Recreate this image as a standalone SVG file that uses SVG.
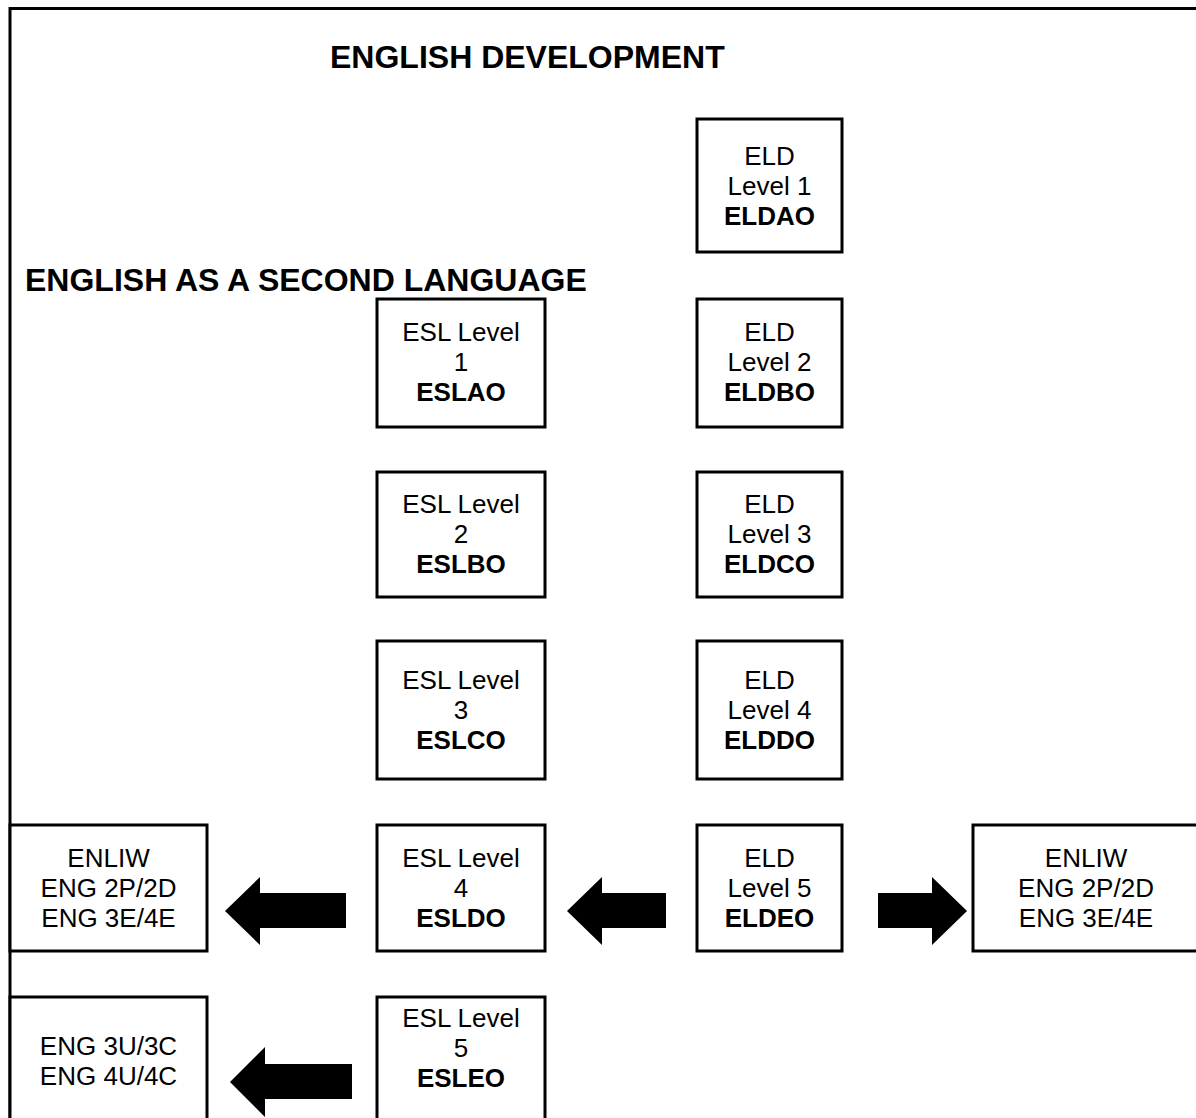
<svg xmlns="http://www.w3.org/2000/svg" width="1196" height="1118" viewBox="0 0 1196 1118">
<style>
.box{fill:#fff;stroke:#000;stroke-width:3}
.t{font-family:"Liberation Sans",Arial,sans-serif;font-size:26px;fill:#000;text-anchor:middle}
.b{font-weight:bold}
.h{font-family:"Liberation Sans",Arial,sans-serif;font-size:32px;font-weight:bold;fill:#000}
.arr{fill:#000}
</style>
<rect width="1196" height="1118" fill="#fff"/>
<path d="M10 1118 V8.5 H1196" fill="none" stroke="#000" stroke-width="3"/>
<text class="h" x="330" y="68">ENGLISH DEVELOPMENT</text>
<text class="h" x="25" y="291">ENGLISH AS A SECOND LANGUAGE</text>

<g id="eldao"><rect class="box" x="697" y="119" width="145" height="133"/>
<text class="t" x="769.5" y="165">ELD</text><text class="t" x="769.5" y="195">Level 1</text><text class="t b" x="769.5" y="225">ELDAO</text></g>

<g id="eslao"><rect class="box" x="377" y="299" width="168" height="128"/>
<text class="t" x="461" y="341">ESL Level</text><text class="t" x="461" y="371">1</text><text class="t b" x="461" y="401">ESLAO</text></g>
<g id="eldbo"><rect class="box" x="697" y="299" width="145" height="128"/>
<text class="t" x="769.5" y="341">ELD</text><text class="t" x="769.5" y="371">Level 2</text><text class="t b" x="769.5" y="401">ELDBO</text></g>

<g id="eslbo"><rect class="box" x="377" y="472" width="168" height="125"/>
<text class="t" x="461" y="513">ESL Level</text><text class="t" x="461" y="543">2</text><text class="t b" x="461" y="573">ESLBO</text></g>
<g id="eldco"><rect class="box" x="697" y="472" width="145" height="125"/>
<text class="t" x="769.5" y="513">ELD</text><text class="t" x="769.5" y="543">Level 3</text><text class="t b" x="769.5" y="573">ELDCO</text></g>

<g id="eslco"><rect class="box" x="377" y="641" width="168" height="138"/>
<text class="t" x="461" y="689">ESL Level</text><text class="t" x="461" y="719">3</text><text class="t b" x="461" y="749">ESLCO</text></g>
<g id="elddo"><rect class="box" x="697" y="641" width="145" height="138"/>
<text class="t" x="769.5" y="689">ELD</text><text class="t" x="769.5" y="719">Level 4</text><text class="t b" x="769.5" y="749">ELDDO</text></g>

<g id="enliw-left"><rect class="box" x="10" y="825" width="197" height="126"/>
<text class="t" x="108.5" y="867">ENLIW</text><text class="t" x="108.5" y="897">ENG 2P/2D</text><text class="t" x="108.5" y="927">ENG 3E/4E</text></g>
<g id="esldo"><rect class="box" x="377" y="825" width="168" height="126"/>
<text class="t" x="461" y="867">ESL Level</text><text class="t" x="461" y="897">4</text><text class="t b" x="461" y="927">ESLDO</text></g>
<g id="eldeo"><rect class="box" x="697" y="825" width="145" height="126"/>
<text class="t" x="769.5" y="867">ELD</text><text class="t" x="769.5" y="897">Level 5</text><text class="t b" x="769.5" y="927">ELDEO</text></g>
<g id="enliw-right"><rect class="box" x="973" y="825" width="230" height="126"/>
<text class="t" x="1086" y="867">ENLIW</text><text class="t" x="1086" y="897">ENG 2P/2D</text><text class="t" x="1086" y="927">ENG 3E/4E</text></g>

<g id="eng-u"><rect class="box" x="10" y="997" width="197" height="140"/>
<text class="t" x="108.5" y="1055">ENG 3U/3C</text><text class="t" x="108.5" y="1085">ENG 4U/4C</text></g>
<g id="esleo"><rect class="box" x="377" y="997" width="168" height="140"/>
<text class="t" x="461" y="1027">ESL Level</text><text class="t" x="461" y="1057">5</text><text class="t b" x="461" y="1087">ESLEO</text></g>

<g id="connectors">
<polygon class="arr" points="225,911 260,877 260,893 346,893 346,928 260,928 260,945"/>
<polygon class="arr" points="567,911 602,877 602,893 666,893 666,928 602,928 602,945"/>
<polygon class="arr" points="967,911 932,877 932,893 878,893 878,928 932,928 932,945"/>
<polygon class="arr" points="230,1082 265,1047 265,1064 352,1064 352,1099 265,1099 265,1117"/>
</g>
</svg>
